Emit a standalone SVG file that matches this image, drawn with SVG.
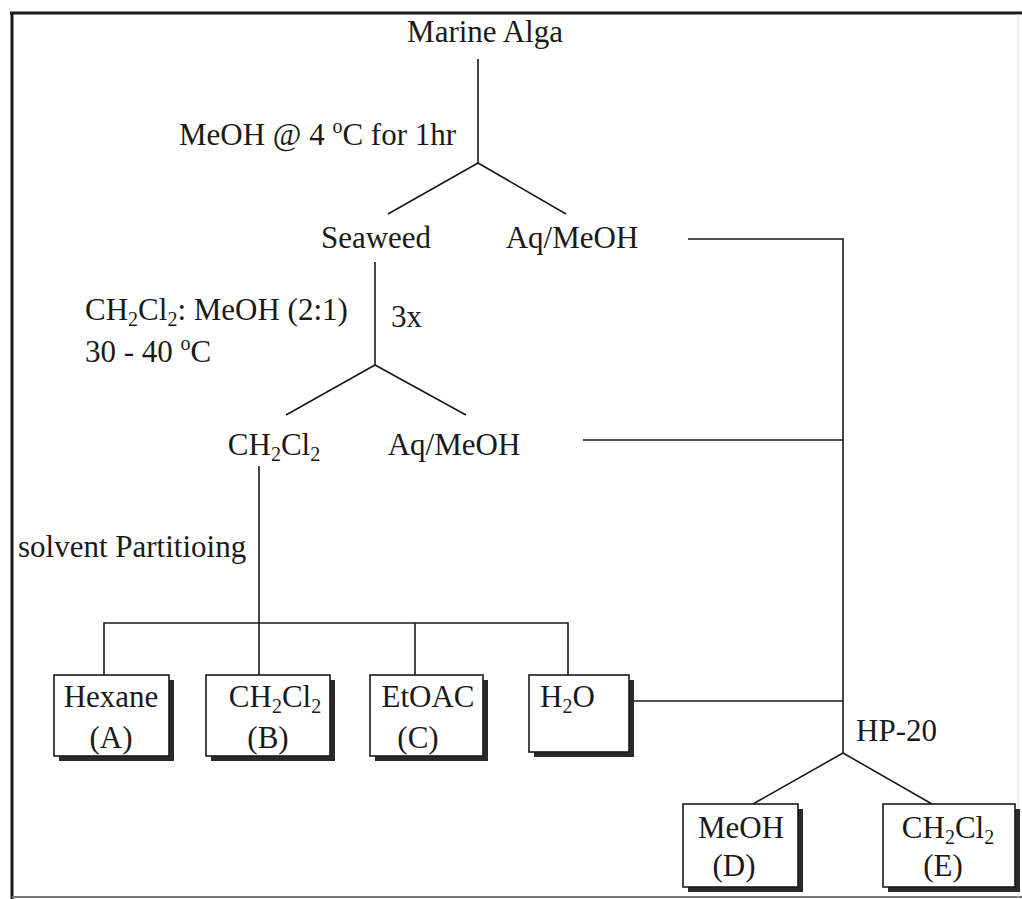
<svg xmlns="http://www.w3.org/2000/svg" width="1022" height="899" viewBox="0 0 1022 899">
<style>
text{font-family:"Liberation Serif","Times New Roman",serif;font-size:31px;fill:#1a1a1a}
.sub{font-size:20px}
.sup{font-size:20px}
.m{text-anchor:middle}
.ln{stroke:#1a1a1a;stroke-width:1.6;fill:none}
.shadow{fill:#2a2a2a}
.box{fill:#fff;stroke:#1a1a1a;stroke-width:1.6}
</style>
<rect width="1022" height="899" fill="#fff"/>
<g id="frame">
<line x1="10" y1="13" x2="1022" y2="13" stroke="#1a1a1a" stroke-width="3"/>
<line x1="12" y1="12" x2="12" y2="899" stroke="#1a1a1a" stroke-width="3"/>
<line x1="12" y1="897" x2="1022" y2="897" stroke="#777" stroke-width="2"/>
<line x1="1018" y1="14" x2="1018" y2="897" stroke="#ddd" stroke-width="1"/>
</g>
<g id="connectors" class="ln">
<polyline points="478,59 478,163"/>
<polyline points="388,214 478,163 566,214"/>
<polyline points="688,239 843,239 843,753"/>
<polyline points="375,262 375,365"/>
<polyline points="286,415 375,365 466,415"/>
<polyline points="583,440 843,440"/>
<polyline points="259,466 259,675"/>
<polyline points="104,675 104,623 568,623 568,675"/>
<polyline points="415,623 415,675"/>
<polyline points="633,701 843,701"/>
<polyline points="753,804 843,753 932,804"/>
</g>
<g id="n-marine-alga"><text class="m" x="485" y="42">Marine Alga</text></g>
<g id="l-meoh-step"><text x="179" y="145">MeOH @ 4 <tspan class="sup" dy="-12">o</tspan><tspan dy="12">C for 1hr</tspan></text></g>
<g id="n-seaweed"><text class="m" x="376" y="248">Seaweed</text></g>
<g id="n-aq-meoh-1"><text class="m" x="572" y="248">Aq/MeOH</text></g>
<g id="l-ch2cl2-meoh"><text x="85" y="320">CH<tspan class="sub" dy="6">2</tspan><tspan dy="-6">Cl</tspan><tspan class="sub" dy="6">2</tspan><tspan dy="-6">: MeOH (2:1)</tspan></text>
<text x="391" y="327">3x</text>
<text x="85" y="362">30 - 40 <tspan class="sup" dy="-12">o</tspan><tspan dy="12">C</tspan></text></g>
<g id="n-ch2cl2"><text class="m" x="274" y="455">CH<tspan class="sub" dy="6">2</tspan><tspan dy="-6">Cl</tspan><tspan class="sub" dy="6">2</tspan></text></g>
<g id="n-aq-meoh-2"><text class="m" x="454" y="455">Aq/MeOH</text></g>
<g id="l-solvent"><text x="18" y="557">solvent Partitioing</text></g>
<g id="n-hexane">
<rect class="shadow" x="59" y="680" width="115" height="81"/>
<rect class="box" x="54" y="675" width="115" height="81"/>
<text class="m" x="111" y="707">Hexane</text><text class="m" x="111" y="748">(A)</text>
</g>
<g id="n-b">
<rect class="shadow" x="211" y="680" width="124" height="81"/>
<rect class="box" x="206" y="675" width="124" height="81"/>
<text class="m" x="275" y="707">CH<tspan class="sub" dy="6">2</tspan><tspan dy="-6">Cl</tspan><tspan class="sub" dy="6">2</tspan></text><text class="m" x="268" y="748">(B)</text>
</g>
<g id="n-c">
<rect class="shadow" x="375" y="680" width="113" height="81"/>
<rect class="box" x="370" y="675" width="113" height="81"/>
<text class="m" x="428" y="707">EtOAC</text><text class="m" x="418" y="748">(C)</text>
</g>
<g id="n-h2o">
<rect class="shadow" x="534" y="680" width="100" height="77"/>
<rect class="box" x="529" y="675" width="100" height="77"/>
<text x="540" y="707">H<tspan class="sub" dy="6">2</tspan><tspan dy="-6">O</tspan></text>
</g>
<g id="n-hp20"><text x="856" y="741">HP-20</text></g>
<g id="n-d">
<rect class="shadow" x="688" y="809" width="115" height="83"/>
<rect class="box" x="683" y="804" width="115" height="83"/>
<text class="m" x="741" y="838">MeOH</text><text class="m" x="734" y="876">(D)</text>
</g>
<g id="n-e">
<rect class="shadow" x="888" y="809" width="132" height="83"/>
<rect class="box" x="883" y="804" width="132" height="83"/>
<text class="m" x="948" y="838">CH<tspan class="sub" dy="6">2</tspan><tspan dy="-6">Cl</tspan><tspan class="sub" dy="6">2</tspan></text><text class="m" x="943" y="876">(E)</text>
</g>
</svg>
